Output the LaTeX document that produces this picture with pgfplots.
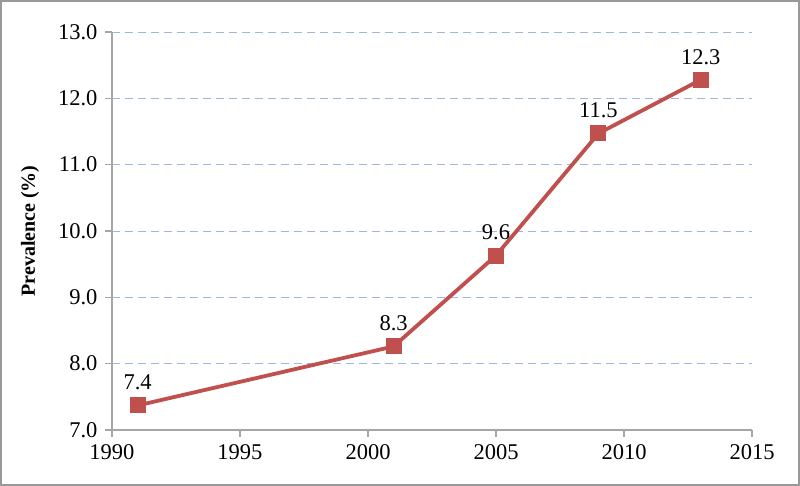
\documentclass[border=0pt]{standalone}
\usepackage{fontspec}
\setmainfont{Liberation Serif}
\usepackage{pgfplots}
\pgfplotsset{compat=1.18}
\definecolor{exred}{HTML}{C0504D}
\definecolor{gridblue}{HTML}{9FB6E3}
\definecolor{axgray}{HTML}{A6A6A6}
\begin{document}
\begin{tikzpicture}
\useasboundingbox (-112pt,-56pt) rectangle (688pt,430pt);
\draw[color=gray!80, line width=1.6pt] (-111pt,-55pt) rectangle (687pt,429pt);
\begin{axis}[
  at={(0pt,0pt)}, anchor=south west,
  scale only axis, width=640pt, height=398pt,
  xmin=1990, xmax=2015, ymin=7, ymax=13,
  xtick={1990,1995,...,2015}, ytick={7,8,...,13},
  axis lines*=left,
  axis line style={color=axgray, line width=1.2pt},
  tick style={color=axgray, line width=1.2pt},
  tick align=outside, major tick length=7pt,
  ymajorgrids, grid style={color=gridblue, dash pattern=on 8pt off 5pt, line width=0.9pt},
  /pgf/number format/assume math mode=true,
  xticklabel style={/pgf/number format/1000 sep={}, font=\fontsize{22.5}{26}\selectfont, yshift=-4pt},
  yticklabel style={/pgf/number format/.cd, fixed, fixed zerofill, precision=1, /tikz/.cd, font=\fontsize{22.5}{26}\selectfont, xshift=-4pt},
  ylabel={\textbf{Prevalence (\%)}},
  every axis y label/.style={at={(-82pt,199pt)}, rotate=90, anchor=center, font=\fontsize{20}{24}\selectfont},
  clip=false,
]
\addplot[color=exred, line width=3.8pt, mark=square*, mark size=7.5pt,
  mark options={solid, fill=exred, line width=0pt},
  nodes near coords, point meta=explicit symbolic,
  every node near coord/.append style={font=\fontsize{22.5}{26}\selectfont, color=black, yshift=12pt}]
  coordinates {
  (1991,7.37) [7.4]
  (2001,8.26) [8.3]
  (2005,9.63) [9.6]
  (2009,11.47) [11.5]
  (2013,12.28) [12.3]
  };
\end{axis}
\end{tikzpicture}
\end{document}
